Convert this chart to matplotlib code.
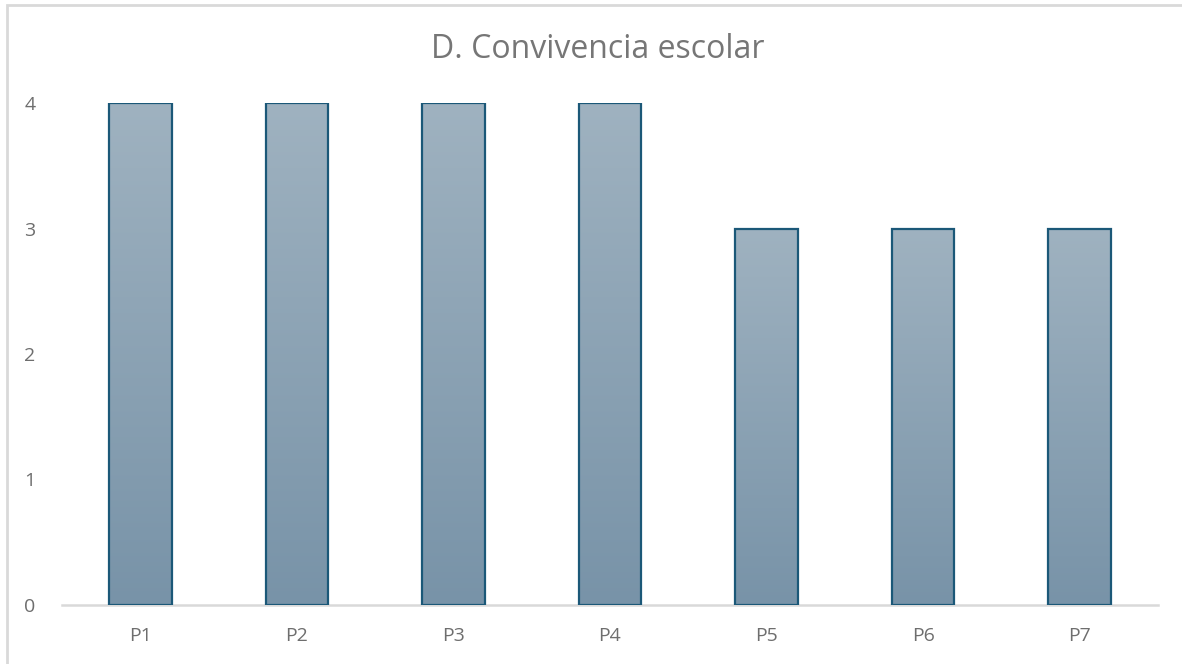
import numpy as np
import matplotlib
matplotlib.use("Agg")
import matplotlib.pyplot as plt
from matplotlib.patches import Rectangle
from matplotlib.colors import LinearSegmentedColormap

categories = ["P1", "P2", "P3", "P4", "P5", "P6", "P7"]
values = [4, 4, 4, 4, 3, 3, 3]
yticks = [0, 1, 2, 3, 4]
title = "D. Convivencia escolar"

W, H = 1182, 664
fig = plt.figure(figsize=(W / 100, H / 100), dpi=100)
fig.patch.set_facecolor("white")

# outer chart border (cropped on right/bottom)
fig.patches.append(Rectangle((7 / W, -0.05), 1.2, 1 - 5 / H + 0.05, transform=fig.transFigure,
                             fill=False, edgecolor="#D9D9D9", linewidth=2, zorder=0))

ax = fig.add_axes([62 / W, 1 - 605 / H, (1158 - 62) / W, (605 - 103) / H])

cmap = LinearSegmentedColormap.from_list("g", ["#7893A8", "#9FB2C0"])
grad = np.linspace(0, 1, 256).reshape(-1, 1)
bw = 0.40
x = np.arange(len(categories))
for xi, v in zip(x, values):
    ax.imshow(grad, extent=(xi - bw / 2, xi + bw / 2, 0, v), origin="lower",
              cmap=cmap, aspect="auto", zorder=2)
    ax.add_patch(Rectangle((xi - bw / 2, 0), bw, v, fill=False,
                           edgecolor="#1B5878", linewidth=1.6, zorder=3))
ax.set_xlim(-0.5, len(categories) - 0.5)
ax.set_ylim(0, 4)

for s in ["top", "right", "left"]:
    ax.spines[s].set_visible(False)
ax.spines["bottom"].set_color("#D9D9D9")
ax.spines["bottom"].set_linewidth(1.8)
ax.spines["bottom"].set_zorder(1)

ax.set_xticks(x)
ax.set_xticklabels(categories)
ax.set_yticks(yticks)
ax.tick_params(axis="both", length=0, labelsize=14, labelcolor="#6E6E6E", labelfontfamily="Open Sans")
ax.tick_params(axis="x", pad=16)
ax.tick_params(axis="y", pad=19)

fig.text(598 / W, 1 - 49 / H, title, ha="center", va="center", fontsize=23,
         color="#767676", family="Open Sans")

fig.savefig("out.png", dpi=100, facecolor="white")
